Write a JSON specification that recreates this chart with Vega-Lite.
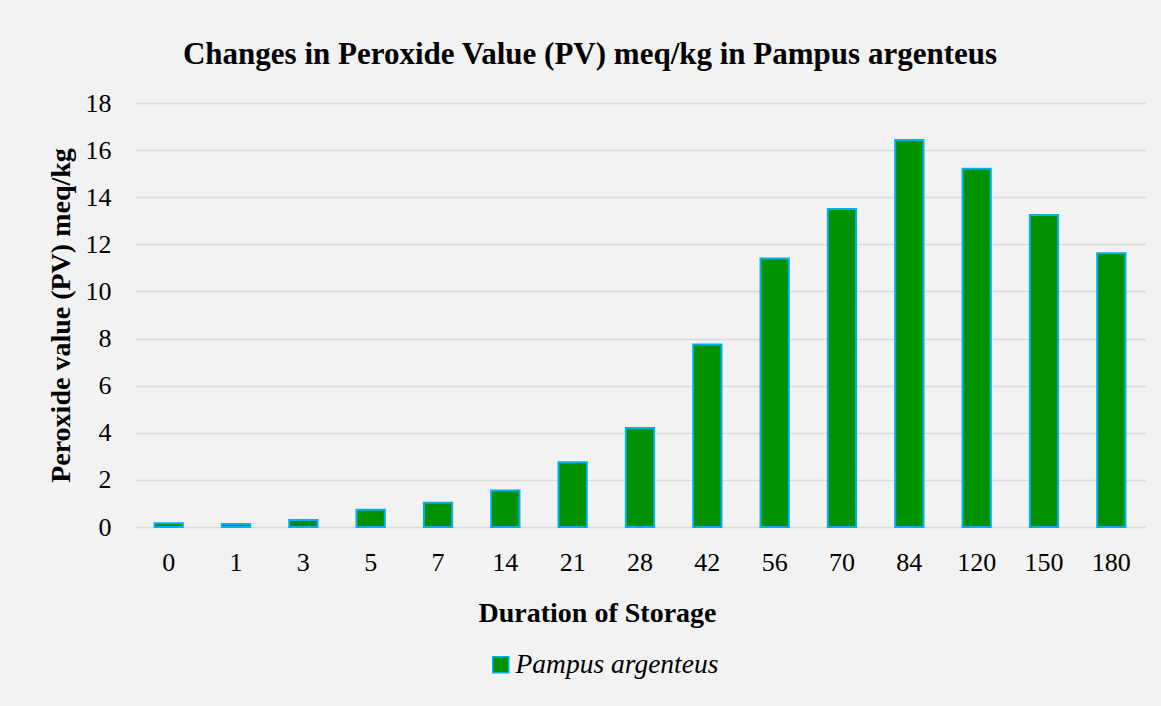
{
  "$schema": "https://vega.github.io/schema/vega-lite/v6.json",
  "width": 1010,
  "height": 424,
  "autosize": {"type": "none"},
  "padding": {"left": 135, "top": 103, "right": 16, "bottom": 179},
  "background": "#f2f2f2",
  "title": {
    "text": "Changes in Peroxide Value (PV) meq/kg in Pampus argenteus",
    "font": "Liberation Serif",
    "fontSize": 31,
    "fontWeight": "bold",
    "color": "#000000",
    "anchor": "middle",
    "dx": -50,
    "offset": 19
  },
  "data": {
    "values": [
      {"day": "0", "pv": 0.16, "series": "Pampus argenteus"},
      {"day": "1", "pv": 0.13, "series": "Pampus argenteus"},
      {"day": "3", "pv": 0.3, "series": "Pampus argenteus"},
      {"day": "5", "pv": 0.73, "series": "Pampus argenteus"},
      {"day": "7", "pv": 1.03, "series": "Pampus argenteus"},
      {"day": "14", "pv": 1.55, "series": "Pampus argenteus"},
      {"day": "21", "pv": 2.75, "series": "Pampus argenteus"},
      {"day": "28", "pv": 4.2, "series": "Pampus argenteus"},
      {"day": "42", "pv": 7.75, "series": "Pampus argenteus"},
      {"day": "56", "pv": 11.4, "series": "Pampus argenteus"},
      {"day": "70", "pv": 13.5, "series": "Pampus argenteus"},
      {"day": "84", "pv": 16.43, "series": "Pampus argenteus"},
      {"day": "120", "pv": 15.21, "series": "Pampus argenteus"},
      {"day": "150", "pv": 13.24, "series": "Pampus argenteus"},
      {"day": "180", "pv": 11.62, "series": "Pampus argenteus"}
    ]
  },
  "mark": {"type": "bar", "stroke": "#00b0f0", "strokeWidth": 2},
  "encoding": {
    "x": {
      "field": "day",
      "type": "ordinal",
      "sort": null,
      "scale": {"paddingInner": 0.58, "paddingOuter": 0.29},
      "axis": {
        "title": "Duration of Storage",
        "labelAngle": 0,
        "domain": false,
        "ticks": false,
        "labelPadding": 22,
        "titlePadding": 24,
        "titleX": 462
      }
    },
    "y": {
      "field": "pv",
      "type": "quantitative",
      "scale": {"domain": [0, 18], "nice": false},
      "axis": {
        "title": "Peroxide value (PV) meq/kg",
        "values": [0, 2, 4, 6, 8, 10, 12, 14, 16, 18],
        "domain": false,
        "ticks": false,
        "labelPadding": 24,
        "titlePadding": 10,
        "grid": true
      }
    },
    "color": {
      "field": "series",
      "type": "nominal",
      "scale": {"range": ["#009000"]},
      "legend": {
        "title": null,
        "orient": "none",
        "legendX": 352,
        "legendY": 548,
        "symbolType": "square",
        "symbolStrokeColor": "#00b0f0",
        "symbolStrokeWidth": 1.5,
        "symbolSize": 256,
        "labelOffset": 1,
        "labelLimit": 0,
        "labelFontStyle": "italic"
      }
    }
  },
  "config": {
    "font": "Liberation Serif",
    "view": {"stroke": null},
    "axis": {
      "labelFont": "Liberation Serif",
      "labelFontSize": 26,
      "labelColor": "#000000",
      "titleFont": "Liberation Serif",
      "titleFontSize": 28,
      "titleFontWeight": "bold",
      "titleColor": "#000000",
      "gridColor": "#d9d9d9",
      "gridWidth": 1.5
    },
    "legend": {
      "labelFont": "Liberation Serif",
      "labelFontSize": 27.5,
      "labelColor": "#000000"
    }
  }
}
